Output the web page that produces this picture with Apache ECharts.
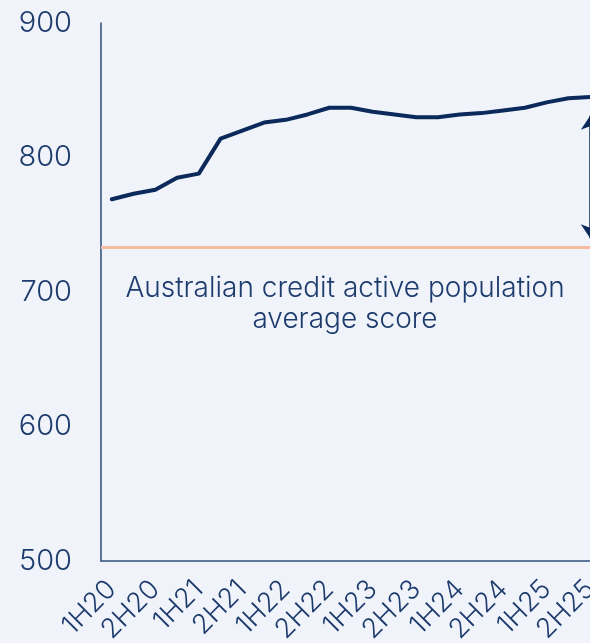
<!DOCTYPE html>
<html>
<head>
<meta charset="utf-8">
<script src="https://cdn.jsdelivr.net/npm/echarts@6/dist/echarts.min.js"></script>
<style>
  html, body { margin: 0; padding: 0; background: #f0f4fa; }
  #chart { width: 590px; height: 643px; }
</style>
</head>
<body>
<div id="chart"></div>
<script>
// half-year tick labels, one point between each pair
const tickLabels = ["1H20", "2H20", "1H21", "2H21", "1H22", "2H22", "1H23", "2H23", "1H24", "2H24", "1H25", "2H25"];
const scores = [769, 773, 776, 785, 788, 814, 820, 826, 828, 832, 837, 837,
                834, 832, 830, 830, 832, 833, 835, 837, 841, 844, 845];
const avgScore = 733;
const avgLabel = "Australian credit active population\naverage score";
// gap arrow ends, in score units
const arrowTop = 831;
const arrowBottom = 740;
const yTicks = [500, 600, 700, 800, 900];

const categories = [];
tickLabels.forEach(function (t, i) {
  categories.push(t);
  if (i < tickLabels.length - 1) categories.push(t + "+");
});

const navy = "#0b2a5b";
const textColor = "#1d3b6d";
const font = "Inter, 'Noto Sans', sans-serif";

const myChart = echarts.init(document.getElementById("chart"));
myChart.setOption({
  backgroundColor: "#f0f4fa",
  animation: false,
  grid: {
    left: 101,
    width: 500,
    top: 23,
    bottom: 82,
    containLabel: false,
    outerBoundsMode: "none",
  },
  xAxis: {
    type: "category",
    data: categories,
    boundaryGap: true,
    axisLine: { lineStyle: { color: "#2d4c7d", width: 1.5 } },
    axisTick: { show: false },
    axisLabel: {
      interval: 1,
      rotate: 45,
      margin: 24,
      color: textColor,
      fontFamily: font,
      fontWeight: 300,
      fontSize: 27,
    },
  },
  yAxis: {
    type: "value",
    min: yTicks[0],
    max: yTicks[yTicks.length - 1],
    interval: 100,
    splitLine: { show: false },
    axisLine: { show: true, lineStyle: { color: "#2d4c7d", width: 1.5 } },
    axisTick: { show: false },
    axisLabel: {
      margin: 29,
      color: textColor,
      fontFamily: font,
      fontWeight: 300,
      fontSize: 29,
    },
  },
  series: [
    {
      type: "line",
      data: scores,
      showSymbol: false,
      lineStyle: { color: navy, width: 4, join: "round", cap: "round" },
      markLine: {
        silent: true,
        animation: false,
        symbol: "none",
        data: [{ yAxis: avgScore }],
        lineStyle: { color: "#f8b9a3", width: 3, type: "solid" },
        label: {
          show: true,
          formatter: avgLabel,
          position: "insideMiddleBottom",
          distance: 25,
          offset: [-6, 0],
          color: textColor,
          fontFamily: font,
          fontWeight: 300,
          fontSize: 28,
          lineHeight: 31,
          align: "center",
        },
      },
    },
    {
      // gap arrow between latest score and the average
      type: "line",
      data: [],
      markLine: {
        silent: true,
        animation: false,
        symbol: ["arrow", "arrow"],
        symbolSize: [14, 14],
        data: [
          [
            { coord: [categories.length - 1, arrowTop] },
            { coord: [categories.length - 1, arrowBottom] },
          ],
        ],
        lineStyle: { color: navy, width: 1.5, type: "solid" },
        label: { show: false },
      },
    },
  ],
});
window.onresize = myChart.resize;
</script>
</body>
</html>
